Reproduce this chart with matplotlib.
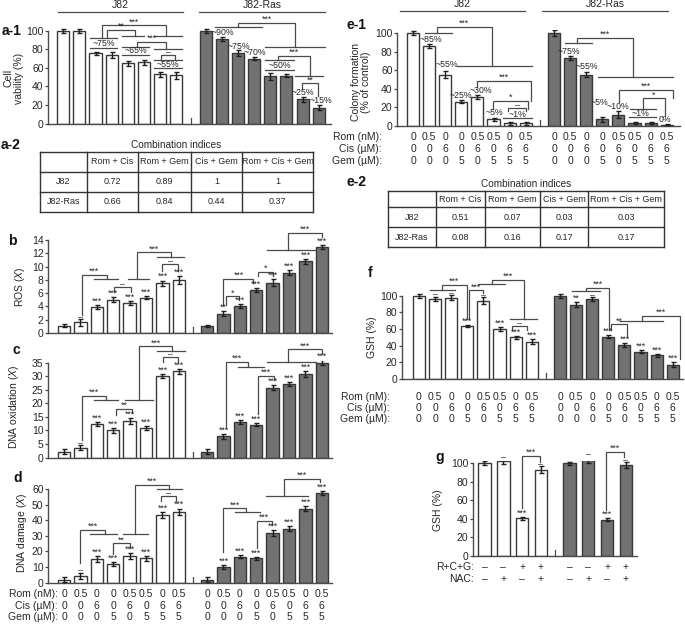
import numpy as np
import matplotlib
matplotlib.use('Agg')
import matplotlib.pyplot as plt

plt.rcParams['font.family'] = ['Liberation Sans', 'DejaVu Sans']
plt.rcParams['mathtext.fontset'] = 'custom'
plt.rcParams['mathtext.rm'] = 'Liberation Sans'
plt.rcParams['mathtext.it'] = 'Liberation Sans:italic'

# ---------------- data ----------------
groups = ['J82', 'J82-Ras']
rom = ['0', '0.5', '0', '0', '0.5', '0.5', '0', '0.5']
cis = ['0', '0', '6', '0', '6', '0', '6', '6']
gem = ['0', '0', '0', '5', '0', '5', '5', '5']

# a-1 cell viability (%)
via_j82 = [100, 100, 76, 74, 65, 66, 53, 52]
via_j82_err = [2.5, 2.0, 1.5, 3.0, 2.5, 3.0, 2.5, 3.5]
via_ras = [100, 91, 76, 70, 51, 51.5, 26, 17]
via_ras_err = [2.5, 2.0, 3.0, 1.5, 3.5, 1.5, 2.5, 2.5]

# a-2 / e-2 combination indices
ci_cols = ['', 'Rom + Cis', 'Rom + Gem', 'Cis + Gem', 'Rom + Cis + Gem']
ci_via = [['J82', '0.72', '0.89', '1', '1'],
          ['J82-Ras', '0.66', '0.84', '0.44', '0.37']]
ci_col = [['J82', '0.51', '0.07', '0.03', '0.03'],
          ['J82-Ras', '0.08', '0.16', '0.17', '0.17']]

# b ROS (fold)
ros_j82 = [1.1, 1.6, 3.9, 5.0, 4.5, 5.3, 7.5, 8.0]
ros_j82_err = [0.2, 0.5, 0.3, 0.35, 0.35, 0.25, 0.4, 0.6]
ros_ras = [1.1, 2.9, 4.0, 6.5, 7.6, 9.1, 10.8, 13.0]
ros_ras_err = [0.15, 0.35, 0.3, 0.3, 0.5, 0.35, 0.35, 0.3]
ros_j82_sig = ['', '–', '***', '***', '***', '***', '***', '***']
ros_ras_sig = ['', '**', '***', '***', '***', '***', '***', '***']

# c DNA oxidation (fold)
oxi_j82 = [2.2, 3.6, 12.3, 10.0, 13.4, 11.0, 30.0, 31.8]
oxi_j82_err = [0.8, 0.9, 0.8, 1.0, 1.0, 0.7, 0.8, 1.0]
oxi_ras = [2.1, 7.8, 13.1, 12.1, 25.7, 27.1, 30.8, 35.0]
oxi_ras_err = [0.9, 1.0, 0.7, 0.6, 0.9, 0.7, 1.0, 0.9]
oxi_j82_sig = ['', '–', '***', '***', '***', '***', '***', '***']
oxi_ras_sig = ['', '***', '***', '***', '***', '***', '***', '***']

# d DNA damage (fold)
dmg_j82 = [2.0, 4.5, 15.0, 12.0, 17.0, 15.5, 43.5, 45.5]
dmg_j82_err = [1.5, 2.0, 2.0, 1.5, 2.0, 1.5, 2.0, 2.0]
dmg_ras = [2.0, 10.0, 16.5, 15.5, 32.0, 34.5, 47.5, 57.5]
dmg_ras_err = [1.5, 1.5, 1.0, 1.0, 1.8, 1.5, 1.8, 1.5]
dmg_j82_sig = ['', '–', '***', '***', '***', '***', '***', '***']
dmg_ras_sig = ['', '***', '***', '***', '***', '***', '***', '***']

# e-1 colony formation (% of control)
col_j82 = [100, 86, 55, 26, 31, 7, 2.5, 2.5]
col_j82_err = [2.5, 2.5, 3.5, 1.5, 2.5, 1.5, 1.5, 1.5]
col_ras = [100, 73, 55, 7, 12, 3, 3, 1]
col_ras_err = [3.0, 2.0, 3.0, 2.5, 4.0, 1.5, 1.5, 0.5]

# f GSH (%)
gsh_j82 = [100, 96.5, 97.5, 63.5, 94, 60, 50, 45]
gsh_j82_err = [2.5, 2.5, 3.0, 1.5, 4.5, 2.5, 1.5, 2.5]
gsh_ras = [100, 89, 96, 51, 41, 33, 28.5, 17]
gsh_ras_err = [2.5, 3.0, 2.0, 1.5, 2.5, 1.5, 2.0, 3.0]
gsh_j82_sig = ['', '–', '–', '***', '–', '***', '***', '***']
gsh_ras_sig = ['', '**', '–', '***', '***', '***', '***', '***']

# g GSH with NAC (%)
rcg = ['–', '–', '+', '+']
nac = ['–', '+', '–', '+']
nac_j82 = [100, 102, 40.5, 93]
nac_j82_err = [2.0, 3.0, 1.5, 4.0]
nac_ras = [100, 104, 39, 98]
nac_ras_err = [1.5, 4.0, 1.5, 3.5]
nac_j82_sig = ['', '–', '***', '–']
nac_ras_sig = ['', '–', '***', '–']

# ---------------- style ----------------
W, H = 685, 624
GREY = '#727272'
EDGE = '#383838'
LINE = '#4a4a4a'
AXC = '#4a4a4a'
TXT = '#262626'
FS = 7.5
SFS = 6.3

fig = plt.figure(figsize=(W / 100, H / 100), dpi=100)
over = fig.add_axes([0, 0, 1, 1])
over.set_xlim(0, W)
over.set_ylim(H, 0)
over.axis('off')

info = {}


def make_panel(xl, xr, c0, step, y0, ref, ymax, ticks):
    ppu = (y0 - ref[1]) / ref[0]
    ytop = y0 - ymax * ppu
    ax = fig.add_axes([xl / W, 1 - y0 / H, (xr - xl) / W, (y0 - ytop) / H])
    ax.set_xlim((xl - c0) / step, (xr - c0) / step)
    ax.set_ylim(0, ymax)
    ax.patch.set_visible(False)
    ax.spines['top'].set_visible(False)
    ax.spines['right'].set_visible(False)
    ax.spines['left'].set_bounds(ticks[0], ticks[-1])
    for s in ['left', 'bottom']:
        ax.spines[s].set_color(AXC)
        ax.spines[s].set_linewidth(1.0)
    ax.set_yticks(ticks)
    ax.tick_params(axis='y', direction='out', length=2.2, width=0.9, color=AXC,
                   labelsize=FS, labelcolor=TXT, pad=1)
    ax.tick_params(axis='x', length=0, labelbottom=False)
    info[ax] = (ppu, y0)
    return ax


def draw_bars(ax, pos, vals, errs, fill, width):
    ax.bar(pos, vals, width, color=fill, edgecolor=EDGE, linewidth=1.0, zorder=2)
    ax.errorbar(pos, vals, yerr=errs, fmt='none', ecolor='#1e1e1e', elinewidth=1.0,
                capsize=1.8, capthick=1.0, zorder=3)


def draw_break(ax, x):
    ppu = info[ax][0]
    ax.plot([x, x], [0, 6 / ppu], color=AXC, lw=0.9, clip_on=False)


def marks(ax, pos, vals, errs, labels):
    for p, v, e, s in zip(pos, vals, errs, labels):
        if not s:
            continue
        dy = -2.2 if s == '–' else -0.5
        ax.annotate(s, (p, v + e), xytext=(0, dy), textcoords='offset points',
                    ha='center', va='bottom', fontsize=SFS, color=TXT,
                    annotation_clip=False)


def hline(ax, x1, x2, y):
    ax.plot([x1, x2], [y, y], color=LINE, lw=0.9, clip_on=False)


def link(ax, xa, ya, xb, yb, top, s):
    ax.plot([xa, xa, xb, xb], [ya, top, top, yb], color=LINE, lw=0.9,
            clip_on=False, solid_joinstyle='miter')
    dy = -1.8 if s == '–' else -0.8
    ax.annotate(s, ((xa + xb) / 2, top), xytext=(0, dy), textcoords='offset points',
                ha='center', va='bottom', fontsize=SFS, color=TXT,
                annotation_clip=False)


def pct(ax, items):
    for s, x, y in items:
        ax.text(x, y, s, ha='center', va='center', fontsize=SFS, color=TXT,
                clip_on=False)


def dose_rows(ax, pos, rows, ys, label_x):
    ppu, y0 = info[ax]
    for (name, vals), py in zip(rows, ys):
        over.text(label_x, py, name, ha='right', va='center', fontsize=FS, color=TXT)
        for p, v in zip(pos, vals):
            ax.text(p, (y0 - py) / ppu, v, ha='center', va='center',
                    fontsize=FS, color=TXT, clip_on=False)


def header(x1, x2, y, s):
    over.text((x1 + x2) / 2, y - 7, s, ha='center', va='center', fontsize=FS, color=TXT)
    over.plot([x1, x2], [y, y], color=LINE, lw=0.9)


def table(xe, ye, head, rows, title):
    over.text((xe[0] + xe[-1]) / 2, ye[0] - 7, title, ha='center', va='center',
              fontsize=7.2, color=TXT)
    for x in xe:
        over.plot([x, x], [ye[0], ye[-1]], color='#333333', lw=1.0)
    for y in ye:
        over.plot([xe[0], xe[-1]], [y, y], color='#333333', lw=1.0)
    for r, row in enumerate([head] + rows):
        yc = (ye[r] + ye[r + 1]) / 2
        for c, s in enumerate(row):
            over.text((xe[c] + xe[c + 1]) / 2, yc, s, ha='center', va='center',
                      fontsize=6.5, color=TXT)


def plabel(x, y, s):
    over.text(x, y, s, ha='left', va='center', fontsize=10, fontweight='bold', color='#111111')


def ylab(x, y, s):
    over.text(x, y, s, ha='center', va='center', rotation=90, fontsize=FS,
              color=TXT, multialignment='center', linespacing=1.1)


dose = [('Rom (nM):', rom), ('Cis (µM):', cis), ('Gem (µM):', gem)]
BW = 0.75

# ---------------- a-1 ----------------
off = 8.86
pj = np.arange(8)
pr = np.arange(8) + off
ax = make_panel(48, 331, 63.3, 16.1, 123.5, (100, 31), 103, [0, 20, 40, 60, 80, 100])
draw_bars(ax, pj, via_j82, via_j82_err, 'white', BW)
draw_bars(ax, pr, via_ras, via_ras_err, GREY, BW)
draw_break(ax, (7 + off) / 2)
pct(ax, [('~75%', 2.5, 86.5), ('~65%', 4.5, 78.5), ('~55%', 6.5, 64)])
for x1, x2, y in [(1.65, 3.35, 92), (1.65, 3.35, 81.5), (3.65, 5.35, 83),
                  (3.65, 5.35, 74), (5.65, 7.35, 69), (5.65, 7.35, 59.5),
                  (3.65, 5.0, 95), (5.65, 7.35, 95), (5.65, 7.35, 81)]:
    hline(ax, x1, x2, y)
link(ax, 6.05, 69, 6.95, 69, 74, '–')
link(ax, 2.7, 92, 4.45, 95, 101, '**')
link(ax, 4.55, 83, 6.4, 81, 88.5, '***')
link(ax, 2.4, 92, 6.4, 95, 106, '***')
pct(ax, [('~90%', 9.92, 98.6), ('~75%', 10.91, 83), ('~70%', 11.9, 76.5),
         ('~50%', 13.46, 63), ('~25%', 14.89, 33.3), ('~15%', 16.0, 25.4)])
for x1, x2, y in [(12.5, 14.3, 68.6), (12.5, 14.3, 57.8), (9.42, 12.34, 104.7),
                  (12.53, 16.25, 83), (14.39, 16.13, 51.4)]:
    hline(ax, x1, x2, y)
link(ax, 10.87, 104.7, 14.39, 83, 109, '***')
link(ax, 13.35, 68.6, 15.32, 51.4, 73.3, '***')
link(ax, 14.84, 37.5, 15.84, 29.5, 43.4, '**')
header(58, 183, 12, groups[0])
header(199, 325, 12, groups[1])
plabel(2, 31, 'a-1')
ylab(14, 78, 'Cell\nvability (%)')

# ---------------- a-2 ----------------
plabel(1, 145, 'a-2')
table([40, 87, 138, 191, 242, 313], [152, 172, 192, 212], ci_cols, ci_via,
      'Combination indices')

# ---------------- b ----------------
off = 8.72
pr = np.arange(8) + off
ax = make_panel(48, 332, 64, 16.4, 333, (14, 240), 14.3, list(range(0, 15, 2)))
draw_bars(ax, pj, ros_j82, ros_j82_err, 'white', BW)
draw_bars(ax, pr, ros_ras, ros_ras_err, GREY, BW)
draw_break(ax, (7 + off) / 2)
marks(ax, pj, ros_j82, ros_j82_err, ros_j82_sig)
marks(ax, pr, ros_ras, ros_ras_err, ros_ras_sig)
for x1, x2, y in [(1.8, 3.3, 8.2), (3.9, 5.2, 8.2), (5.7, 7.3, 11.5), (12.4, 15.35, 12.5)]:
    hline(ax, x1, x2, y)
link(ax, 1.08, 2.7, 2.6, 8.2, 8.8, '***')
link(ax, 4.47, 8.2, 6.5, 11.5, 12.15, '***')
link(ax, 6.0, 9.4, 6.95, 9.4, 10.4, '–')
link(ax, 3.07, 6.1, 4.07, 6.1, 6.9, '–')
link(ax, 13.66, 12.5, 15.76, 14.4, 15.1, '***')
link(ax, 9.72, 4.2, 11.55, 7.6, 8.2, '***')
link(ax, 9.88, 4.2, 10.7, 4.9, 5.5, '*')
link(ax, 11.85, 8.6, 12.77, 8.6, 9.2, '*')
plabel(8, 241, 'b')
ylab(20, 287, 'ROS ($\\it{X}$)')

# ---------------- c ----------------
ax = make_panel(48, 332, 64, 16.4, 457.5, (35, 362.7), 35.5, list(range(0, 36, 5)))
draw_bars(ax, pj, oxi_j82, oxi_j82_err, 'white', BW)
draw_bars(ax, pr, oxi_ras, oxi_ras_err, GREY, BW)
draw_break(ax, (7 + off) / 2)
marks(ax, pj, oxi_j82, oxi_j82_err, oxi_j82_sig)
marks(ax, pr, oxi_ras, oxi_ras_err, oxi_ras_sig)
for x1, x2, y in [(1.8, 3.3, 21.2), (3.7, 5.4, 21.2), (5.65, 7.4, 39.3),
                  (12.4, 15.35, 35.4), (10.6, 12.2, 33.5)]:
    hline(ax, x1, x2, y)
link(ax, 1.08, 6.5, 2.56, 21.2, 22.7, '***')
link(ax, 4.6, 21.2, 6.56, 39.3, 41.1, '***')
link(ax, 6.04, 35.2, 6.95, 35.2, 37.2, '–')
link(ax, 3.17, 15.6, 4.12, 16.6, 17.9, '**')
link(ax, 13.66, 35.4, 15.76, 38.2, 39.9, '***')
link(ax, 9.88, 11.0, 11.2, 33.5, 35.4, '***')
link(ax, 11.85, 16.2, 12.8, 28.6, 30.1, '***')
plabel(13, 350, 'c')
ylab(14, 407, 'DNA oxidation ($\\it{X}$)')

# ---------------- d ----------------
ax = make_panel(48, 332, 64, 16.4, 582.7, (60, 489), 61, list(range(0, 61, 10)))
draw_bars(ax, pj, dmg_j82, dmg_j82_err, 'white', BW)
draw_bars(ax, pr, dmg_ras, dmg_ras_err, GREY, BW)
draw_break(ax, (7 + off) / 2)
marks(ax, pj, dmg_j82, dmg_j82_err, dmg_j82_sig)
marks(ax, pr, dmg_ras, dmg_ras_err, dmg_ras_sig)
for x1, x2, y in [(1.6, 3.25, 31), (3.6, 5.1, 31), (5.65, 7.2, 59.8),
                  (12.3, 14.9, 55.7), (10.4, 11.95, 45)]:
    hline(ax, x1, x2, y)
link(ax, 0.98, 12.4, 2.5, 31, 33.7, '***')
link(ax, 4.33, 31, 6.42, 59.8, 62.5, '***')
link(ax, 5.9, 52.3, 6.8, 52.3, 55.5, '–')
link(ax, 3.0, 18.5, 4.02, 22.5, 25.2, '**')
link(ax, 13.44, 55.7, 15.6, 64.3, 66.4, '***')
link(ax, 9.7, 19.9, 11.1, 45, 47.6, '***')
link(ax, 11.75, 22, 12.66, 37, 39.5, '***')
dose_rows(ax, list(pj) + list(pr), [(n, v + v) for n, v in dose], [594, 606, 617], 58)
plabel(13, 478, 'd')
ylab(22, 533, 'DNA damage ($\\it{X}$)')

# ---------------- e-1 ----------------
off = 8.76
pr = np.arange(8) + off
ax = make_panel(397, 680, 413, 16.1, 125.7, (100, 33), 103, [0, 20, 40, 60, 80, 100])
draw_bars(ax, pj, col_j82, col_j82_err, 'white', BW)
draw_bars(ax, pr, col_ras, col_ras_err, GREY, BW)
draw_break(ax, (7 + off) / 2)
pct(ax, [('~85%', 1.12, 93.5), ('~55%', 2.1, 65.5), ('~25%', 2.95, 33),
         ('~30%', 4.2, 38.5), ('~5%', 5.03, 14), ('~1%', 6.46, 12.6)])
for x1, x2, y in [(0.75, 2.4, 99.7), (2.73, 7.37, 64.4), (5.6, 7.4, 8.8)]:
    hline(ax, x1, x2, y)
link(ax, 1.47, 99.7, 4.89, 64.4, 106.8, '***')
link(ax, 4.0, 42, 7.3, 26.6, 48.2, '***')
link(ax, 4.99, 18, 7.16, 17.7, 26.6, '*')
link(ax, 5.92, 16.2, 7.0, 16.2, 19.5, '–')
pct(ax, [('~75%', 9.65, 79.8), ('~55%', 10.79, 63.6), ('~5%', 11.6, 24.8),
         ('~10%', 12.75, 20.5), ('~1%', 14.1, 13.4), ('0%', 15.65, 6.9)])
for x1, x2, y in [(9.44, 11.1, 88.9), (11.5, 16.15, 52.9), (13.47, 15.09, 18.3),
                  (13.4, 15.1, 9)]:
    hline(ax, x1, x2, y)
link(ax, 10.2, 88.9, 13.65, 52.9, 95, '***')
link(ax, 12.8, 26, 16.12, 29.5, 38.5, '***')
link(ax, 14.27, 18.3, 15.65, 10.5, 29.5, '*')
dose_rows(ax, list(pj) + list(pr), [(n, v + v) for n, v in dose], [137, 149, 161], 382)
header(400, 525, 11, groups[0])
header(542, 668, 11, groups[1])
plabel(347, 25, 'e-1')
ylab(361, 82, 'Colony formation\n(% of control)')

# ---------------- e-2 ----------------
plabel(347, 182, 'e-2')
table([388, 436, 485, 540, 588, 664], [191, 207, 227, 247], ci_cols, ci_col,
      'Combination indices')

# ---------------- f ----------------
ax = make_panel(401.7, 683, 419, 16.1, 379, (100, 295.7), 103, [0, 20, 40, 60, 80, 100])
draw_bars(ax, pj, gsh_j82, gsh_j82_err, 'white', BW)
draw_bars(ax, pr, gsh_ras, gsh_ras_err, GREY, BW)
draw_break(ax, (7 + off) / 2)
marks(ax, pj, gsh_j82, gsh_j82_err, gsh_j82_sig)
marks(ax, pr, gsh_ras, gsh_ras_err, gsh_ras_sig)
for x1, x2, y in [(0.68, 2.24, 106.8), (3.67, 5.34, 113.7), (5.65, 7.35, 71.7),
                  (9.5, 11.24, 105.6), (12.48, 15.17, 69.6)]:
    hline(ax, x1, x2, y)
link(ax, 1.41, 106.8, 2.96, 72, 112.8, '***')
link(ax, 3.12, 72, 4.0, 103, 106.5, '***')
link(ax, 4.51, 113.7, 6.54, 71.7, 118.8, '***')
link(ax, 5.76, 58.5, 6.69, 58.5, 63.5, '–')
link(ax, 10.35, 105.6, 11.82, 58.8, 109.6, '***')
link(ax, 11.93, 58.8, 12.9, 50.8, 65.7, '**')
link(ax, 13.83, 69.6, 16.21, 24, 75.6, '***')
dose_rows(ax, list(pj) + list(pr), [(n, v + v) for n, v in dose], [397, 408, 419], 390)
plabel(368, 273, 'f')
ylab(372, 337, 'GSH (%)')

# ---------------- g ----------------
off = 4.52
pj4 = np.arange(4)
pr4 = np.arange(4) + off
ax = make_panel(472.7, 637, 484.5, 18.8, 555.7, (100, 463.3), 103, [0, 20, 40, 60, 80, 100])
draw_bars(ax, pj4, nac_j82, nac_j82_err, 'white', 0.66)
draw_bars(ax, pr4, nac_ras, nac_ras_err, GREY, 0.66)
draw_break(ax, (3 + off) / 2)
marks(ax, pj4, nac_j82, nac_j82_err, nac_j82_sig)
marks(ax, pr4, nac_ras, nac_ras_err, nac_ras_sig)
link(ax, 1.98, 51.3, 2.95, 101.7, 107.9, '***')
link(ax, 6.45, 49.5, 7.44, 107.1, 112.5, '***')
dose_rows(ax, list(pj4) + list(pr4), [('R+C+G:', rcg + rcg), ('NAC:', nac + nac)],
          [567, 579], 474)
plabel(435, 457, 'g')
ylab(438, 510, 'GSH (%)')

fig.savefig('out.png', dpi=100)
